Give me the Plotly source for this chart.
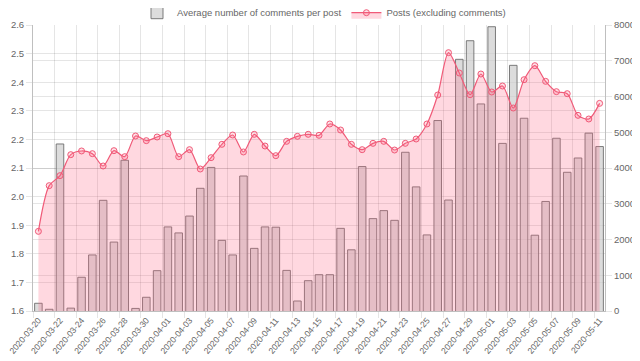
import plotly.graph_objects as go
import pandas as pd

dates = [d.strftime("%Y-%m-%d") for d in pd.date_range("2020-03-20", "2020-05-11", freq="D")]

avg_comments = [1.627, 1.606, 2.184, 1.610, 1.718, 1.796, 1.987, 1.841, 2.127, 1.609,
                1.648, 1.741, 1.894, 1.873, 1.932, 2.029, 2.102, 1.847, 1.796, 2.072,
                1.819, 1.894, 1.893, 1.742, 1.635, 1.706, 1.727, 1.727, 1.889, 1.814,
                2.105, 1.923, 1.951, 1.917, 2.155, 2.034, 1.866, 2.266, 1.988, 2.480,
                2.545, 2.324, 2.594, 2.186, 2.459, 2.274, 1.865, 1.983, 2.204, 2.085,
                2.135, 2.222, 2.175]

posts = [2228, 3506, 3786, 4373, 4476, 4401, 4056, 4485, 4317, 4895,
         4765, 4867, 4960, 4317, 4513, 3972, 4289, 4662, 4923, 4448,
         4942, 4615, 4345, 4746, 4886, 4942, 4914, 5231, 5063, 4662,
         4513, 4690, 4746, 4503, 4690, 4811, 5231, 6042, 7226, 6657,
         6051, 6629, 6126, 6294, 5678, 6470, 6862, 6424, 6135, 6079,
         5473, 5371, 5808]

FS = 9.5
font = dict(family="Liberation Sans, Arial, sans-serif", size=FS, color="#666")

fig = go.Figure()
fig.add_trace(go.Bar(
    x=dates, y=avg_comments, name="Average number of comments per post",
    marker=dict(color="rgba(205,205,205,0.7)", line=dict(color="rgba(110,110,110,0.9)", width=1)),
    yaxis="y",
))
fig.add_trace(go.Scatter(
    x=dates, y=posts, name="Posts (excluding comments)", mode="lines+markers",
    line=dict(color="rgb(240,90,120)", width=1.2, shape="spline", smoothing=0.8),
    marker=dict(size=6, color="rgba(255,99,132,0.2)", line=dict(color="rgb(240,90,120)", width=1)),
    fill="tozeroy", fillcolor="rgba(255,99,132,0.25)",
    yaxis="y2",
))

axis_common = dict(automargin=False, showgrid=True, gridcolor="rgba(0,0,0,0.1)", gridwidth=1,
                   showline=True, linecolor="rgba(0,0,0,0.25)",
                   ticks="outside", ticklen=6, tickcolor="rgba(0,0,0,0.1)",
                   tickfont=dict(size=FS, color="#666"))

fig.update_layout(
    width=632, height=353,
    margin=dict(l=25, r=35, t=17, b=50, autoexpand=False),
    paper_bgcolor="white", plot_bgcolor="white",
    font=font,
    bargap=0.3,
    showlegend=True,
    legend=dict(orientation="h", x=0.5, xanchor="center", xref="container",
                y=1.043, yanchor="middle", yref="paper",
                font=dict(size=FS, color="#666"), bgcolor="rgba(0,0,0,0)",
                itemwidth=30),
    xaxis=dict(type="category", tickson="boundaries", dtick=2, tickangle=-50, **axis_common),
    yaxis=dict(range=[1.6, 2.6], dtick=0.1, tickformat=".1f", zeroline=False, **axis_common),
    yaxis2=dict(range=[0, 8000], dtick=1000, overlaying="y", side="right", zeroline=False,
                **axis_common),
)
fig.update_xaxes(tickfont=dict(size=8.6, color="#666"))

fig.write_html("out.html")
